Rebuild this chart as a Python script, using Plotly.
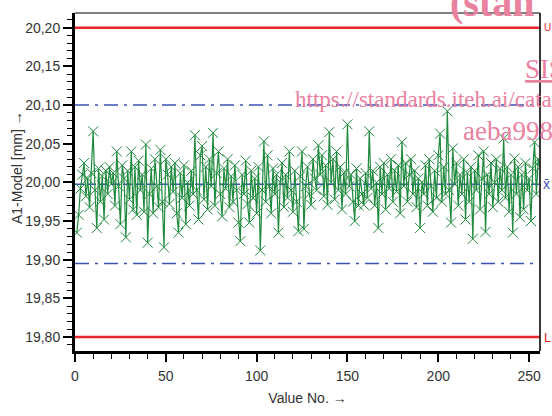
import plotly.graph_objects as go

values = [
    19.935, 19.958, 19.992, 20.010, 20.025, 19.982, 20.005, 19.968, 20.012, 20.066, 19.990, 19.941, 20.018, 19.975, 20.008, 19.952,
    20.015, 19.985, 20.020, 19.998, 20.012, 19.970, 20.040, 19.995, 19.946, 20.022, 20.005, 19.929, 20.015, 19.978, 20.040, 19.965,
    20.020, 19.958, 20.028, 19.990, 20.010, 19.962, 20.049, 19.922, 19.985, 20.018, 19.960, 20.030, 19.995, 19.968, 20.042, 19.975,
    19.916, 20.030, 20.010, 19.972, 20.020, 19.988, 20.025, 19.960, 19.935, 20.012, 19.980, 20.022, 19.946, 20.000, 19.970, 20.015,
    19.985, 20.061, 19.990, 19.952, 20.035, 20.047, 19.978, 20.020, 19.965, 20.030, 19.995, 20.064, 19.970, 20.012, 20.040, 19.985,
    19.956, 20.018, 19.992, 20.030, 19.968, 20.008, 19.975, 20.022, 19.990, 19.948, 19.924, 20.010, 19.985, 20.028, 19.972, 19.948,
    20.015, 19.980, 20.005, 19.960, 20.020, 19.912, 19.990, 20.053, 19.975, 20.035, 19.995, 19.960, 20.018, 19.985, 20.010, 19.935,
    20.000, 20.025, 19.968, 20.010, 19.980, 20.040, 19.990, 19.962, 20.015, 19.975, 19.937, 20.008, 20.040, 19.940, 19.995, 20.020,
    19.985, 19.971, 20.030, 20.005, 19.990, 20.048, 20.010, 20.035, 19.982, 20.022, 19.971, 20.065, 20.000, 20.030, 19.978, 20.040,
    19.990, 20.020, 19.965, 20.012, 19.985, 20.075, 19.995, 20.010, 19.975, 19.950, 20.018, 19.970, 20.005, 19.985, 19.971, 20.012,
    19.980, 20.066, 19.992, 20.015, 19.970, 20.000, 19.941, 20.020, 19.985, 20.025, 19.965, 20.010, 19.992, 20.030, 19.975, 20.015,
    19.988, 20.022, 19.960, 20.052, 19.995, 20.025, 19.975, 20.010, 20.030, 19.985, 20.015, 19.968, 20.005, 19.941, 20.000, 19.985,
    20.022, 19.970, 20.030, 19.995, 19.962, 20.015, 19.980, 20.035, 20.063, 19.975, 20.020, 19.985, 20.092, 19.990, 19.948, 20.044,
    19.998, 20.025, 19.970, 20.010, 19.985, 20.030, 19.952, 20.012, 19.975, 20.020, 19.927, 20.015, 19.990, 20.035, 19.965, 20.005,
    20.040, 19.936, 20.010, 19.985, 20.025, 19.968, 20.000, 20.030, 19.975, 20.018, 19.990, 20.057, 19.980, 20.020, 19.962, 20.010,
    19.935, 20.031, 19.985, 20.020, 19.955, 20.010, 19.965, 20.025, 19.990, 20.005, 19.950, 20.018, 20.052, 19.985, 20.030, 20.020,
]
value_no = list(range(1, len(values) + 1))

spec_limits = {"U": 20.20, "L": 19.80}
control_limits = [20.10, 19.895]
mean_value = 19.9975

x_ticks = [0, 50, 100, 150, 200, 250]
y_ticks = [19.80, 19.85, 19.90, 19.95, 20.00, 20.05, 20.10, 20.15, 20.20]

watermark_texts = ["<b>(stan</b>", "<u>SIS</u>", "https://standards.iteh.ai/cata", "aeba998e"]

GREEN = "#1f8a3d"
RED = "#e8242c"
BLUE = "#3d52b5"
PINK = "#e9819f"
FONT = "Liberation Sans, Arial, sans-serif"
SERIF = "Liberation Serif, Times New Roman, serif"

W, H = 552, 416
L, R, T, B = 75, 11, 13, 52
pw, ph = W - L - R, H - T - B


def px_x(page_x):
    return (page_x - L) / pw


def px_y(page_y):
    return (H - B - page_y) / ph


fig = go.Figure()

fig.add_trace(go.Scatter(
    x=value_no, y=values, mode="lines+markers",
    line=dict(color=GREEN, width=1.2),
    marker=dict(symbol="x-thin", size=10, color=GREEN,
                line=dict(color=GREEN, width=1)),
    hoverinfo="x+y", showlegend=False,
))

shapes = []
for name, v in spec_limits.items():
    shapes.append(dict(type="line", xref="x domain", yref="y", x0=0, x1=1, y0=v, y1=v,
                       line=dict(color=RED, width=2.5), layer="above"))
for v in control_limits:
    shapes.append(dict(type="line", xref="x domain", yref="y", x0=0, x1=1, y0=v, y1=v,
                       line=dict(color=BLUE, width=1.5, dash="14px,6px,3px,6px"), layer="below"))
shapes.append(dict(type="line", xref="x domain", yref="y", x0=0, x1=1, y0=mean_value, y1=mean_value,
                   line=dict(color=BLUE, width=1.5, dash="9px,3px"), layer="below"))
shapes.append(dict(type="line", xref="paper", yref="paper", x0=0, x1=1, y0=1, y1=1,
                   line=dict(color="#555555", width=1.5)))
shapes.append(dict(type="line", xref="paper", yref="paper", x0=1, x1=1, y0=0, y1=1,
                   line=dict(color="#222222", width=1.8)))

annotations = [
    dict(x=px_x(543), xref="paper", xanchor="left", y=spec_limits["U"], yref="y",
         text="U", showarrow=False, font=dict(color=RED, size=10, family=FONT)),
    dict(x=px_x(543), xref="paper", xanchor="left", y=spec_limits["L"], yref="y",
         text="L", showarrow=False, font=dict(color=RED, size=13, family=FONT)),
    dict(x=px_x(542), xref="paper", xanchor="left", y=mean_value, yref="y",
         text="x\u0304", showarrow=False, font=dict(color=BLUE, size=14, family=FONT)),
    dict(x=0, xref="paper", xshift=-58, xanchor="center", y=px_y(174), yref="paper",
         text="A1-Model [mm] \u2192", textangle=-90, showarrow=False,
         font=dict(color="#333333", size=14, family=FONT)),
]

wm_pos = [(449, 18, 40), (524, 83, 27), (293, 113, 23), (462, 147, 27)]
for text, (x, base, size) in zip(watermark_texts, wm_pos):
    annotations.append(dict(
        x=px_x(x), y=px_y(base), xref="paper", yref="paper",
        xanchor="left", yanchor="bottom", yshift=-size * 0.22,
        text=text, showarrow=False,
        font=dict(family=SERIF, size=size, color=PINK),
    ))

fig.update_layout(
    width=W, height=H,
    margin=dict(l=L, r=R, t=T, b=B, pad=0),
    paper_bgcolor="white", plot_bgcolor="white",
    separators=",.",
    font=dict(family=FONT, size=14, color="#333333"),
    shapes=shapes, annotations=annotations,
    xaxis=dict(
        range=[0, 256], tickvals=x_ticks, ticktext=[str(t) for t in x_ticks],
        showgrid=False, zeroline=False,
        showline=True, linecolor="black", linewidth=3,
        ticks="outside", ticklen=8, tickwidth=1.5, tickcolor="black",
        ticklabelstandoff=2,
        minor=dict(dtick=10, ticks="outside", ticklen=5, tickwidth=1.2, tickcolor="black"),
        title=dict(text="Value No. \u2192", font=dict(size=14, color="#333333"), standoff=11),
        tickfont=dict(size=14, color="#333333"),
    ),
    yaxis=dict(
        range=[19.782, 20.219], tickvals=y_ticks, tickformat=".2f",
        showgrid=False, zeroline=False,
        showline=True, linecolor="black", linewidth=3,
        ticks="outside", ticklen=9, tickwidth=1.5, tickcolor="black",
        minor=dict(dtick=0.01, tick0=19.80, ticks="outside", ticklen=5, tickwidth=1.2, tickcolor="black"),
        tickfont=dict(size=14, color="#333333"),
    ),
)

page_css = (
    "var h=document.documentElement.style;h.margin='0';h.padding='0';h.overflow='hidden';h.height='416px';"
    "var b=document.body.style;b.margin='0';b.padding='0';b.overflow='hidden';b.height='416px';"
)

fig.write_html(
    "out.html",
    config={"displayModeBar": False},
    post_script=page_css,
)
